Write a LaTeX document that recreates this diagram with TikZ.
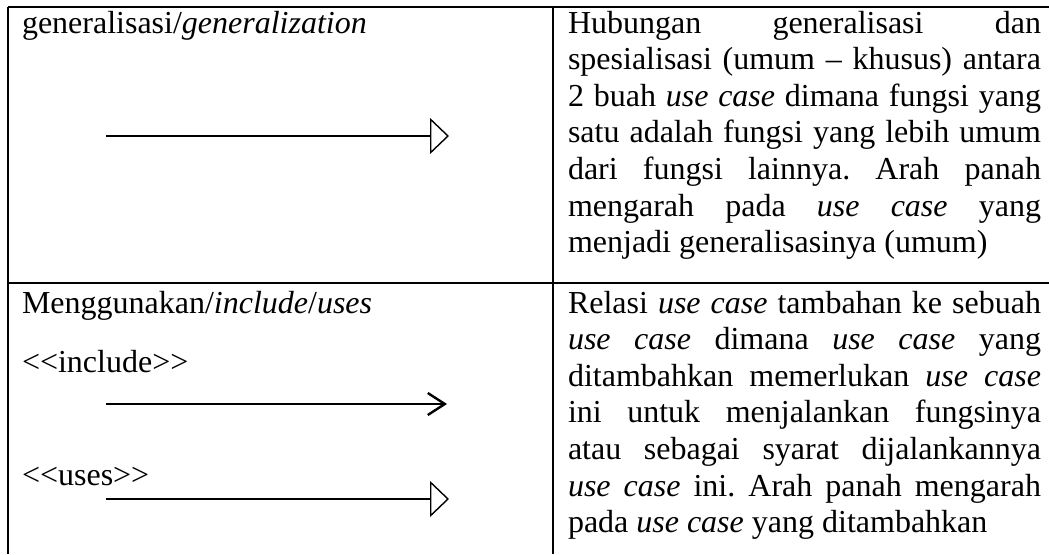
\documentclass[tikz,border=0pt]{standalone}
\usepackage{fontspec}
\setmainfont{Liberation Serif}
\usetikzlibrary{arrows.meta}
\frenchspacing
\tikzset{
  txt/.style={inner sep=0pt, outer sep=0pt, anchor=base west, font=\fontsize{32}{36.6}\selectfont},
  rule/.style={line width=2.2pt},
  genarrow/.style={line width=1.4pt, -{Triangle[open, length=19pt, width=36pt, fill=white]}},
  incarrow/.style={line width=2.4pt, -{Straight Barb[length=17pt, width=22pt]}}
}
\newcommand{\jl}[1]{\makebox[473pt][s]{\frenchspacing #1}}
\begin{document}
\begin{tikzpicture}[x=1pt, y=-1pt]
\useasboundingbox (0,0) rectangle (1049,554);
% table rules
\draw[rule] (8,7) -- (1049,7);
\draw[rule] (8,7) -- (8,554);
\draw[rule] (553,7) -- (553,554);
\draw[rule] (8,283) -- (1049,283);
% left column, row 1
\node[txt] (gentitle) at (22,33) {generalisasi/\textit{generalization}};
\coordinate (g1) at (106,136);
\coordinate (g2) at (449,136);
\draw[genarrow] (g1) -- (g2);
% left column, row 2
\node[txt] (inctitle) at (22,313) {Menggunakan/\textit{include}/\textit{uses}};
\node[txt] (inclabel) at (22,372) {<\kern0pt<include>\kern0pt>};
\node[txt] (useslabel) at (22,485) {<\kern0pt<uses>\kern0pt>};
\coordinate (i1) at (106,404);
\coordinate (i2) at (447,404);
\draw[incarrow] (i1) -- (i2);
\coordinate (u1) at (106,499);
\coordinate (u2) at (449,499);
\draw[genarrow] (u1) -- (u2);
% right column, row 1
\node[txt] (a1) at (568,33)    {\jl{Hubungan generalisasi dan}};
\node[txt] (a2) at (568,69.6)  {\jl{spesialisasi (umum – khusus) antara}};
\node[txt] (a3) at (568,106.2) {\jl{2 buah \textit{use case} dimana fungsi yang}};
\node[txt] (a4) at (568,142.8) {\jl{satu adalah fungsi yang lebih umum}};
\node[txt] (a5) at (568,179.4) {\jl{dari fungsi lainnya. Arah panah}};
\node[txt] (a6) at (568,216)   {\jl{mengarah pada \textit{use case} yang}};
\node[txt] (a7) at (568,252.6) {menjadi generalisasinya (umum)};
% right column, row 2
\node[txt] (b1) at (568,313)   {\jl{Relasi \textit{use case} tambahan ke sebuah}};
\node[txt] (b2) at (568,349.6) {\jl{\textit{use case} dimana \textit{use case} yang}};
\node[txt] (b3) at (568,386.2) {\jl{ditambahkan memerlukan \textit{use case}}};
\node[txt] (b4) at (568,422.8) {\jl{ini untuk menjalankan fungsinya}};
\node[txt] (b5) at (568,459.4) {\jl{atau sebagai syarat dijalankannya}};
\node[txt] (b6) at (568,496)   {\jl{\textit{use case} ini. Arah panah mengarah}};
\node[txt] (b7) at (568,532.6) {pada \textit{use case} yang ditambahkan};
\end{tikzpicture}
\end{document}
